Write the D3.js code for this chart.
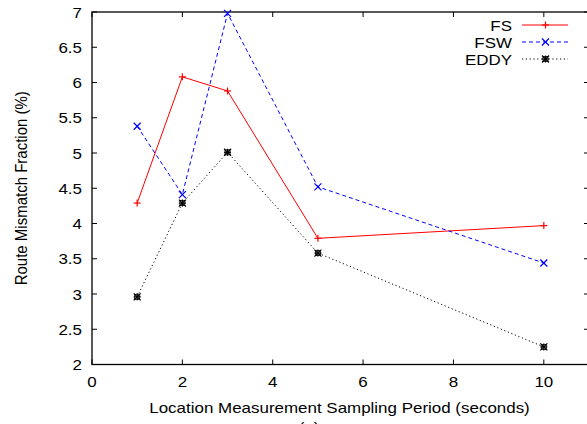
<!DOCTYPE html>
<html><head><meta charset="utf-8">
<script src="https://cdn.jsdelivr.net/npm/d3@7"></script>
<style>body{margin:0;background:#fff}svg text{font-family:"Liberation Sans",Arial,sans-serif;fill:#000}</style>
</head><body><svg id="c" width="587" height="424"></svg>
<script>
const periods = [1, 2, 3, 5, 10];
const fsValues = [4.29, 6.08, 5.88, 3.79, 3.97];
const fswValues = [5.38, 4.41, 6.98, 4.52, 3.44];
const eddyValues = [2.96, 4.29, 5.01, 3.58, 2.25];
const seriesNames = ["FS", "FSW", "EDDY"];
const xTicks = [0, 2, 4, 6, 8, 10];
const yTicks = [2, 2.5, 3, 3.5, 4, 4.5, 5, 5.5, 6, 6.5, 7];

const svg = d3.select("#c");
const L = 92, R = 589, T = 12, B = 364.5;
const x = d3.scaleLinear().domain([0, 11]).range([L, R]);
const y = d3.scaleLinear().domain([2, 7]).range([B, T]);
const tl = 5;
const fsz = 15, sx = 1.13;

function txt(px, py, anchor, s, rot) {
  return svg.append("text")
    .attr("transform", "translate(" + px + "," + py + ")" + (rot ? " rotate(-90) scale(1," + sx + ")" : " scale(" + sx + ",1)"))
    .attr("text-anchor", anchor).attr("font-size", fsz).text(s);
}

svg.append("rect").attr("x", L).attr("y", T).attr("width", R - L).attr("height", B - T)
  .attr("fill", "none").attr("stroke", "#000").attr("stroke-width", 1.3);
const g = svg.append("g").attr("stroke", "#000").attr("stroke-width", 1);
xTicks.forEach(t => {
  g.append("line").attr("x1", x(t)).attr("x2", x(t)).attr("y1", B).attr("y2", B - tl);
  g.append("line").attr("x1", x(t)).attr("x2", x(t)).attr("y1", T).attr("y2", T + tl);
});
yTicks.forEach(t => {
  g.append("line").attr("x1", L).attr("x2", L + tl).attr("y1", y(t)).attr("y2", y(t));
  g.append("line").attr("x1", R).attr("x2", R - tl).attr("y1", y(t)).attr("y2", y(t));
});
xTicks.forEach(t => txt(x(t), B + 22, "middle", t));
yTicks.forEach(t => txt(L - 10, y(t) + 5.5, "end", t));

txt(339.5, 413, "middle", "Location Measurement Sampling Period (seconds)");
txt(27, (T + B) / 2, "middle", "Route Mismatch Fraction (%)", true);
txt(309, 433, "middle", "(a)");

const series = [
  {name: seriesNames[0], vals: fsValues, color: "#ff0000", dash: null, marker: "plus"},
  {name: seriesNames[1], vals: fswValues, color: "#0000ff", dash: "4,3", marker: "cross"},
  {name: seriesNames[2], vals: eddyValues, color: "#000000", dash: "1.2,2.6", marker: "star"}
];
function marker(sel, type, cx, cy, color) {
  const s = 3.5;
  const p = [];
  if (type === "plus" || type === "star") { p.push([cx - s, cy, cx + s, cy], [cx, cy - s, cx, cy + s]); }
  if (type === "cross" || type === "star") { p.push([cx - s, cy - s, cx + s, cy + s], [cx - s, cy + s, cx + s, cy - s]); }
  p.forEach(a => sel.append("line").attr("x1", a[0]).attr("y1", a[1]).attr("x2", a[2]).attr("y2", a[3])
    .attr("stroke", color).attr("stroke-width", 1.2));
  if (type === "star") sel.append("rect").attr("x", cx - 2.5).attr("y", cy - 2.5).attr("width", 5).attr("height", 5)
    .attr("fill", "none").attr("stroke", color).attr("stroke-width", 0.8);
}
const line = d3.line().x((d, i) => x(periods[i])).y(d => y(d));
series.forEach((s, k) => {
  svg.append("path").attr("d", line(s.vals)).attr("fill", "none").attr("stroke", s.color)
    .attr("stroke-width", 1).attr("stroke-dasharray", s.dash);
  const mg = svg.append("g");
  s.vals.forEach((v, i) => marker(mg, s.marker, x(periods[i]), y(v), s.color));
  const ly = 25 + k * 17;
  txt(512, ly + 5.7, "end", s.name);
  svg.append("line").attr("x1", 522).attr("x2", 568).attr("y1", ly).attr("y2", ly)
    .attr("stroke", s.color).attr("stroke-width", 1).attr("stroke-dasharray", s.dash);
  marker(svg.append("g"), s.marker, 545.5, ly, s.color);
});
</script></body></html>
